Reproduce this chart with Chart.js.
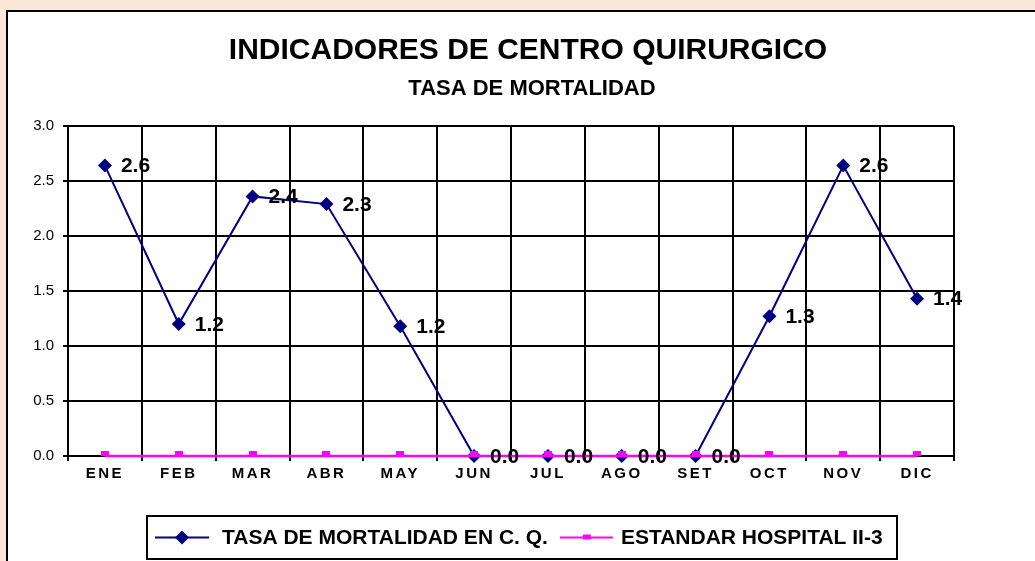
<!DOCTYPE html>
<html>
<head>
<meta charset="utf-8">
<script src="https://cdn.jsdelivr.net/npm/chart.js@4/dist/chart.umd.min.js"></script>
<style>
  html, body { margin: 0; padding: 0; background: #FCE7D8; }
  #wrap { width: 1035px; height: 561px; }
</style>
</head>
<body>
<div id="wrap"><canvas id="c" width="1035" height="561"></canvas></div>
<script>
const months = ['ENE','FEB','MAR','ABR','MAY','JUN','JUL','AGO','SET','OCT','NOV','DIC'];
const tasaMortalidad = [2.64, 1.20, 2.36, 2.29, 1.18, 0.0, 0.0, 0.0, 0.0, 1.27, 2.64, 1.43];
const estandarHospital = [0, 0, 0, 0, 0, 0, 0, 0, 0, 0, 0, 0];
const seriesNames = ['TASA DE MORTALIDAD EN C. Q.', 'ESTANDAR HOSPITAL II-3'];
const titleText = 'INDICADORES DE CENTRO QUIRURGICO';
const subtitleText = 'TASA DE MORTALIDAD';
const yTicks = [0, 0.5, 1.0, 1.5, 2.0, 2.5, 3.0];

const FONT = "'Liberation Sans', Arial, sans-serif";
const BLUE = '#000080';
const MAGENTA = '#FF00FF';

// small magenta marker sitting on top of the line
const stdMarker = document.createElement('canvas');
stdMarker.width = 8; stdMarker.height = 10;
(function () {
  const c = stdMarker.getContext('2d');
  c.fillStyle = MAGENTA;
  c.fillRect(0, 0, 8, 5);
})();

const panelPlugin = {
  id: 'panel',
  beforeDraw(chart) {
    const ctx = chart.ctx;
    ctx.save();
    ctx.fillStyle = '#FCE7D8';
    ctx.fillRect(0, 0, chart.width, chart.height);
    ctx.fillStyle = '#FFFFFF';
    ctx.fillRect(7, 11, chart.width, chart.height);
    ctx.strokeStyle = '#000';
    ctx.lineWidth = 2;
    ctx.beginPath();
    ctx.moveTo(7, chart.height + 5);
    ctx.lineTo(7, 11);
    ctx.lineTo(chart.width + 5, 11);
    ctx.stroke();
    ctx.restore();
  }
};

const titlePlugin = {
  id: 'titles',
  afterDraw(chart) {
    const ctx = chart.ctx;
    ctx.save();
    ctx.fillStyle = '#000';
    ctx.textAlign = 'center';
    ctx.textBaseline = 'middle';
    ctx.font = 'bold 30px ' + FONT;
    ctx.fillText(titleText, 528, 51);
    ctx.font = 'bold 22px ' + FONT;
    ctx.fillText(subtitleText, 532, 89);
    ctx.restore();
  }
};

const spacingPlugin = {
  id: 'xspacing',
  afterLayout(chart) {
    const s = chart.scales.x;
    if (s && !s.__wrapped) {
      const orig = s.drawLabels.bind(s);
      s.drawLabels = function (area) {
        const ctx = chart.ctx;
        ctx.save();
        ctx.letterSpacing = '2.5px';
        orig(area);
        ctx.restore();
      };
      s.__wrapped = true;
    }
  }
};

const labelPlugin = {
  id: 'pointLabels',
  afterDatasetsDraw(chart) {
    const ctx = chart.ctx;
    const meta = chart.getDatasetMeta(0);
    ctx.save();
    ctx.font = 'bold 21px ' + FONT;
    ctx.fillStyle = '#000';
    ctx.textAlign = 'left';
    ctx.textBaseline = 'middle';
    meta.data.forEach((pt, i) => {
      const v = chart.data.datasets[0].data[i];
      ctx.fillText(v.toFixed(1), pt.x + 16, pt.y + 1);
    });
    ctx.restore();
  }
};

const legendPlugin = {
  id: 'customLegend',
  afterDraw(chart) {
    const ctx = chart.ctx;
    ctx.save();
    const left = 147, top = 516, right = 897, bottom = 559;
    ctx.fillStyle = '#fff';
    ctx.fillRect(left, top, right - left, bottom - top);
    ctx.strokeStyle = '#000';
    ctx.lineWidth = 2;
    ctx.strokeRect(left, top, right - left, bottom - top);
    const cy = (top + bottom) / 2;
    ctx.font = 'bold 21px ' + FONT;
    ctx.textBaseline = 'middle';
    ctx.textAlign = 'left';
    const ds = chart.data.datasets;
    // item 1
    let x = 155;
    ctx.strokeStyle = ds[0].borderColor;
    ctx.lineWidth = 2;
    ctx.beginPath(); ctx.moveTo(x, cy); ctx.lineTo(x + 54, cy); ctx.stroke();
    ctx.fillStyle = ds[0].backgroundColor;
    ctx.beginPath();
    const mx = x + 27, r = 7;
    ctx.moveTo(mx, cy - r); ctx.lineTo(mx + r, cy); ctx.lineTo(mx, cy + r); ctx.lineTo(mx - r, cy); ctx.closePath(); ctx.fill();
    ctx.fillStyle = '#000';
    ctx.fillText(ds[0].label, x + 67, cy + 1);
    const w1 = ctx.measureText(ds[0].label).width;
    // item 2
    x = x + 67 + w1 + 12;
    ctx.strokeStyle = ds[1].borderColor;
    ctx.lineWidth = 2;
    ctx.beginPath(); ctx.moveTo(x, cy); ctx.lineTo(x + 53, cy); ctx.stroke();
    ctx.fillStyle = ds[1].backgroundColor;
    ctx.fillRect(x + 23, cy - 3, 8, 5);
    ctx.fillStyle = '#000';
    ctx.fillText(ds[1].label, x + 61, cy + 1);
    ctx.restore();
  }
};

new Chart(document.getElementById('c'), {
  type: 'line',
  data: {
    labels: months,
    datasets: [
      {
        label: seriesNames[0],
        data: tasaMortalidad,
        borderColor: BLUE,
        backgroundColor: BLUE,
        borderWidth: 2,
        pointStyle: 'rectRot',
        pointRadius: 7,
        pointHoverRadius: 7,
        pointBorderWidth: 0,
        tension: 0,
        order: 2,
        clip: false
      },
      {
        label: seriesNames[1],
        data: estandarHospital,
        borderColor: MAGENTA,
        backgroundColor: MAGENTA,
        borderWidth: 2.5,
        pointStyle: stdMarker,
        pointRadius: 4,
        pointBorderWidth: 0,
        tension: 0,
        order: 1,
        clip: false
      }
    ]
  },
  options: {
    responsive: false,
    animation: false,
    events: [],
    layout: { padding: { left: 0, right: 81, top: 126, bottom: 0 } },
    plugins: {
      legend: { display: false },
      tooltip: { enabled: false },
      title: { display: false },
      subtitle: { display: false }
    },
    scales: {
      x: {
        type: 'category',
        offset: true,
        grid: { offset: true, color: '#000', lineWidth: 2, tickLength: 5, drawTicks: true },
        border: { color: '#000', width: 2 },
        ticks: {
          color: '#000',
          font: { family: FONT, size: 15, weight: 'bold' },
          padding: 4,
          maxRotation: 0,
          autoSkip: false
        },
        afterFit(s) { s.height = 105; }
      },
      y: {
        min: 0,
        max: 3,
        afterBuildTicks(s) { s.ticks = yTicks.map(v => ({ value: v })); },
        grid: { color: '#000', lineWidth: 2, tickLength: 5 },
        border: { color: '#000', width: 2 },
        ticks: {
          color: '#000',
          font: { family: FONT, size: 15 },
          padding: 9,
          callback: v => Number(v).toFixed(1)
        },
        afterFit(s) { s.width = 68; }
      }
    }
  },
  plugins: [panelPlugin, spacingPlugin, labelPlugin, legendPlugin, titlePlugin]
});
</script>
</body>
</html>
